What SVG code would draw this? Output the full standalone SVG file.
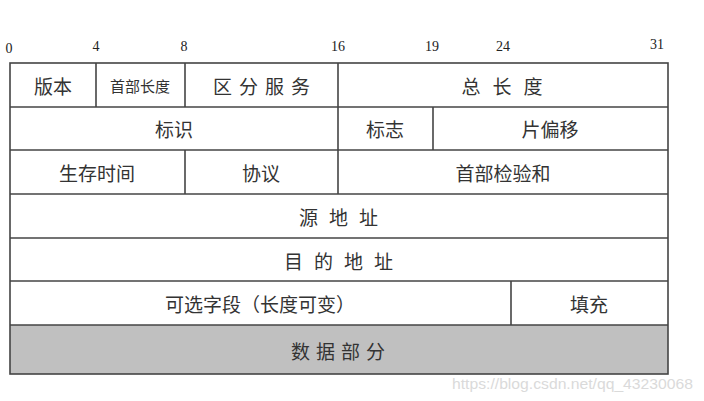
<svg xmlns="http://www.w3.org/2000/svg" width="704" height="401" viewBox="0 0 704 401">
<style>
.c{fill:none;stroke:#444;stroke-width:1.6}
.t{font-family:"Noto Sans CJK SC",sans-serif;font-size:19px;fill:#333;text-anchor:middle;dominant-baseline:central}
.s{font-size:15px}
.n{font-family:"Liberation Serif",serif;font-size:14px;fill:#222;text-anchor:middle}
</style>
<rect width="704" height="401" fill="#fff"/>
<g id="ruler">
<text class="n" x="9" y="53">0</text>
<text class="n" x="96" y="51">4</text>
<text class="n" x="184" y="51">8</text>
<text class="n" x="338" y="51">16</text>
<text class="n" x="432" y="51">19</text>
<text class="n" x="503" y="51">24</text>
<text class="n" x="657" y="49">31</text>
</g>
<g id="data"><rect x="10" y="325" width="658" height="49" fill="#c0c0c0"/><text class="t" x="341" y="350" letter-spacing="6">数据部分</text></g>
<g id="lines">
<rect class="c" x="10" y="63" width="658" height="311"/>
<line class="c" x1="10" y1="107" x2="668" y2="107"/>
<line class="c" x1="10" y1="150" x2="668" y2="150"/>
<line class="c" x1="10" y1="194" x2="668" y2="194"/>
<line class="c" x1="10" y1="238" x2="668" y2="238"/>
<line class="c" x1="10" y1="281" x2="668" y2="281"/>
<line class="c" x1="10" y1="325" x2="668" y2="325"/>
<line class="c" x1="96" y1="63" x2="96" y2="107"/>
<line class="c" x1="185" y1="63" x2="185" y2="107"/>
<line class="c" x1="338" y1="63" x2="338" y2="194"/>
<line class="c" x1="433" y1="107" x2="433" y2="150"/>
<line class="c" x1="185" y1="150" x2="185" y2="194"/>
<line class="c" x1="511" y1="281" x2="511" y2="325"/>
</g>
<g id="version"><text class="t" x="53" y="85">版本</text></g>
<g id="ihl"><text class="t s" x="140" y="85">首部长度</text></g>
<g id="ds"><text class="t" x="265" y="85" letter-spacing="7">区分服务</text></g>
<g id="totlen"><text class="t" x="508" y="85" letter-spacing="12">总长度</text></g>
<g id="ident"><text class="t" x="174" y="128">标识</text></g>
<g id="flags"><text class="t" x="385" y="128">标志</text></g>
<g id="frag"><text class="t" x="550" y="128">片偏移</text></g>
<g id="ttl"><text class="t" x="97" y="172">生存时间</text></g>
<g id="proto"><text class="t" x="261" y="172">协议</text></g>
<g id="cksum"><text class="t" x="503" y="172">首部检验和</text></g>
<g id="src"><text class="t" x="344" y="216" letter-spacing="11">源地址</text></g>
<g id="dst"><text class="t" x="344" y="260" letter-spacing="11">目的地址</text></g>
<g id="opt"><text class="t" x="260" y="303">可选字段（长度可变）</text></g>
<g id="pad"><text class="t" x="589" y="303">填充</text></g>
<text x="452" y="389" font-family="Liberation Sans,sans-serif" font-size="15" fill="#dadada" textLength="241" lengthAdjust="spacingAndGlyphs">https://blog.csdn.net/qq_43230068</text>
</svg>
